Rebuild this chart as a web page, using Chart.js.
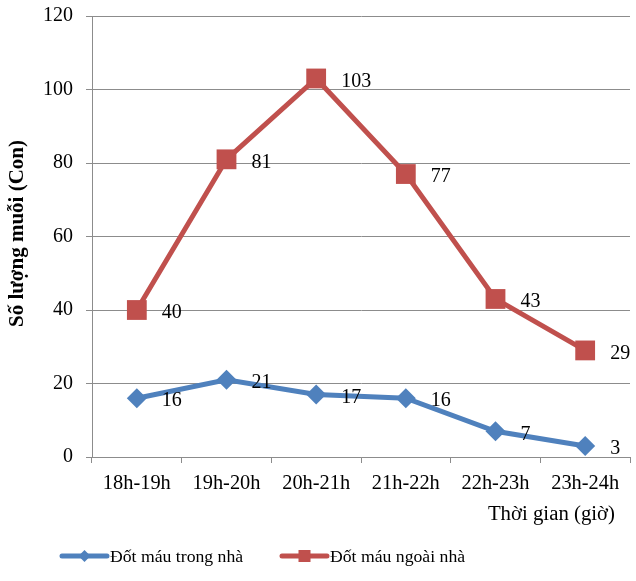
<!DOCTYPE html>
<html>
<head>
<meta charset="utf-8">
<script src="https://cdn.jsdelivr.net/npm/chart.js@4/dist/chart.umd.min.js"></script>
<style>
  html, body { margin: 0; padding: 0; background: #fff; }
</style>
</head>
<body>
<canvas id="chart" width="636" height="581"></canvas>
<script>
const timeSlots = ["18h-19h", "19h-20h", "20h-21h", "21h-22h", "22h-23h", "23h-24h"];
const indoorBites = [16, 21, 17, 16, 7, 3];
const outdoorBites = [40, 81, 103, 77, 43, 29];
const seriesNames = ["Đốt máu trong nhà", "Đốt máu ngoài nhà"];
const yTitle = "Số lượng muỗi (Con)";
const xTitle = "Thời gian (giờ)";

const FONT = "'Liberation Serif', 'Times New Roman', serif";
const BLUE = "#4f81bd";
const RED = "#c0504d";
const GRID = "#8c8c8c";

// tieu de truc, nhan so lieu va chu thich
const extras = {
  id: "extras",
  afterDatasetsDraw(chart) {
    const ctx = chart.ctx;
    ctx.save();
    ctx.fillStyle = "#000";
    ctx.font = "20px " + FONT;
    ctx.textAlign = "left";
    ctx.textBaseline = "middle";
    chart.data.datasets.forEach((ds, i) => {
      chart.getDatasetMeta(i).data.forEach((pt, j) => {
        ctx.fillText(String(ds.data[j]), pt.x + 25, pt.y + 3);
      });
    });
    ctx.restore();
  },
  afterDraw(chart) {
    const ctx = chart.ctx;
    const area = chart.chartArea;
    ctx.save();
    ctx.fillStyle = "#000";

    // y title
    ctx.font = "bold 21px " + FONT;
    ctx.textAlign = "center";
    ctx.textBaseline = "middle";
    ctx.translate(18, (area.top + area.bottom) / 2 - 3);
    ctx.rotate(-Math.PI / 2);
    ctx.fillText(yTitle, 0, 0);
    ctx.setTransform(1, 0, 0, 1, 0, 0);

    // x title
    ctx.font = "20.8px " + FONT;
    ctx.textAlign = "right";
    ctx.fillText(xTitle, area.right - 15, 515);

    // legend
    const items = [
      { x: 62, color: BLUE, style: "diamond" },
      { x: 282, color: RED, style: "square" },
    ];
    const ly = 556;
    ctx.font = "17.7px " + FONT;
    items.forEach((it, i) => {
      ctx.strokeStyle = it.color;
      ctx.lineWidth = 5;
      ctx.lineCap = "round";
      ctx.beginPath();
      ctx.moveTo(it.x, ly);
      ctx.lineTo(it.x + 45, ly);
      ctx.stroke();
      ctx.fillStyle = it.color;
      const cx = it.x + 22.5;
      if (it.style === "diamond") {
        ctx.beginPath();
        ctx.moveTo(cx, ly - 6);
        ctx.lineTo(cx + 6, ly);
        ctx.lineTo(cx, ly + 6);
        ctx.lineTo(cx - 6, ly);
        ctx.closePath();
        ctx.fill();
      } else {
        ctx.fillRect(cx - 6, ly - 6, 12, 12);
      }
      ctx.fillStyle = "#000";
      ctx.textAlign = "left";
      ctx.fillText(seriesNames[i], it.x + 48, ly + 1);
    });
    ctx.restore();
  },
};

new Chart(document.getElementById("chart"), {
  type: "line",
  data: {
    labels: timeSlots,
    datasets: [
      {
        label: seriesNames[0],
        data: indoorBites,
        borderColor: BLUE,
        backgroundColor: BLUE,
        borderWidth: 5,
        pointStyle: "rectRot",
        pointRadius: 10,
        pointBorderWidth: 0,
        tension: 0,
      },
      {
        label: seriesNames[1],
        data: outdoorBites,
        borderColor: RED,
        backgroundColor: RED,
        borderWidth: 5,
        pointStyle: "rect",
        pointRadius: 14,
        pointBorderWidth: 0,
        tension: 0,
      },
    ],
  },
  options: {
    responsive: false,
    animation: false,
    layout: {
      autoPadding: false,
      padding: { top: 16, right: 6, bottom: 0, left: 0 },
    },
    plugins: {
      legend: { display: false },
      tooltip: { enabled: false },
    },
    scales: {
      x: {
        offset: true,
        afterFit: (s) => {
          s.height = 124;
          s.paddingLeft = 0;
          s.paddingRight = 0;
        },
        grid: {
          offset: true,
          drawOnChartArea: false,
          drawTicks: true,
          tickLength: 6,
          color: GRID,
        },
        border: { color: GRID, width: 1 },
        ticks: {
          color: "#000",
          font: { family: FONT, size: 20.4 },
          padding: 8,
          maxRotation: 0,
        },
      },
      y: {
        min: 0,
        max: 120,
        afterFit: (s) => {
          s.width = 92;
          s.paddingTop = 0;
          s.paddingBottom = 0;
        },
        grid: { color: GRID, tickLength: 6, drawTicks: true },
        border: { color: GRID, width: 1 },
        ticks: {
          stepSize: 20,
          color: "#000",
          font: { family: FONT, size: 20 },
          padding: 13,
        },
      },
    },
  },
  plugins: [extras],
});
</script>
</body>
</html>
